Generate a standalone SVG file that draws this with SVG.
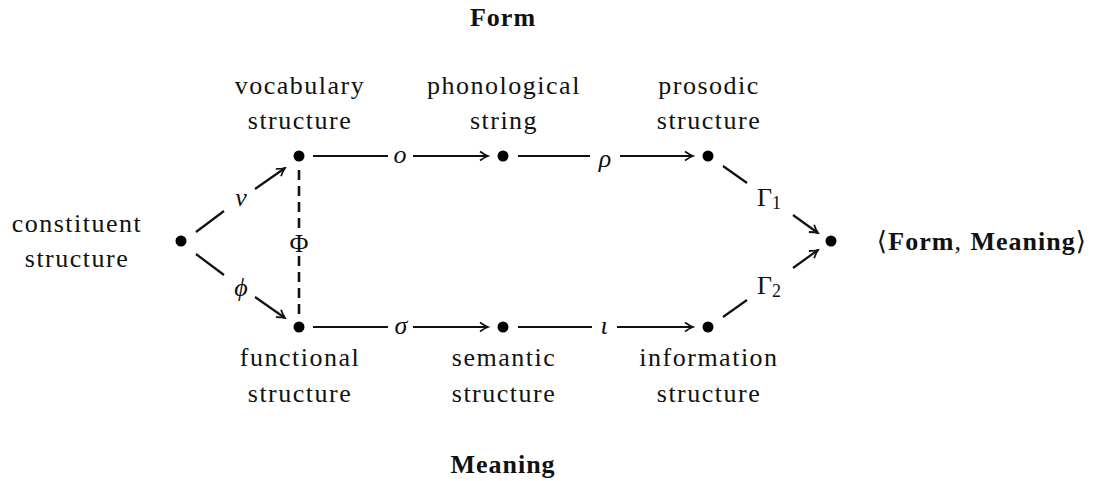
<svg xmlns="http://www.w3.org/2000/svg" width="1099" height="481" viewBox="0 0 1099 481">
<defs>
<style>
.t{font-family:"Liberation Serif","DejaVu Serif",serif;font-size:26px;letter-spacing:1.5px;fill:#111;text-anchor:middle;dominant-baseline:central}
.b{font-weight:bold;letter-spacing:1px}
.g{font-style:italic;letter-spacing:0}
.ln{stroke:#111;stroke-width:2.2;fill:none}
.ds{stroke-dasharray:10 6;stroke-width:2.6}
.dot{fill:#000}
</style>
<marker id="ar" viewBox="-10 -6 12 12" refX="0" refY="0" markerWidth="12" markerHeight="12" markerUnits="userSpaceOnUse" orient="auto">
<path d="M-8,-4.5 Q-3,-1 0,0 Q-3,1 -8,4.5" stroke="#111" stroke-width="1.8" fill="none"/>
</marker>
</defs>
<rect width="1099" height="481" fill="#fff"/>

<g id="labels">
<text class="t b" x="503" y="17">Form</text>
<text class="t b" x="503" y="464">Meaning</text>
</g>

<g id="n-constituent">
<circle class="dot" cx="181" cy="241" r="5.5"/>
<text class="t" x="77" y="223">constituent</text>
<text class="t" x="77" y="258">structure</text>
</g>
<g id="n-vocabulary">
<circle class="dot" cx="299" cy="156" r="5.5"/>
<text class="t" x="300" y="85">vocabulary</text>
<text class="t" x="300" y="120">structure</text>
</g>
<g id="n-functional">
<circle class="dot" cx="299" cy="327" r="5.5"/>
<text class="t" x="300" y="357">functional</text>
<text class="t" x="300" y="393">structure</text>
</g>
<g id="n-phonological">
<circle class="dot" cx="503" cy="156" r="5.5"/>
<text class="t" x="504" y="85">phonological</text>
<text class="t" x="504" y="120">string</text>
</g>
<g id="n-semantic">
<circle class="dot" cx="503" cy="327" r="5.5"/>
<text class="t" x="504" y="357">semantic</text>
<text class="t" x="504" y="393">structure</text>
</g>
<g id="n-prosodic">
<circle class="dot" cx="708" cy="156" r="5.5"/>
<text class="t" x="709" y="85">prosodic</text>
<text class="t" x="709" y="120">structure</text>
</g>
<g id="n-information">
<circle class="dot" cx="708" cy="327" r="5.5"/>
<text class="t" x="709" y="357">information</text>
<text class="t" x="709" y="393">structure</text>
</g>
<g id="n-pair">
<circle class="dot" cx="831" cy="241" r="5.5"/>
<text class="t" x="982" y="241">⟨<tspan class="b">Form</tspan>, <tspan class="b">Meaning</tspan>⟩</text>
</g>

<g id="connectors">
<path class="ln" d="M196,232 L224,211"/>
<path class="ln" d="M255,189 L285,168" marker-end="url(#ar)"/>
<text class="t g" x="241" y="197">ν</text>
<path class="ln" d="M196,254 L224,275"/>
<path class="ln" d="M255,297 L285,318" marker-end="url(#ar)"/>
<text class="t g" x="241" y="287">ϕ</text>

<path class="ln ds" d="M299,170 L299,230"/>
<path class="ln ds" d="M299,256 L299,316"/>
<text class="t" x="299" y="243" style="letter-spacing:0">Φ</text>

<path class="ln" d="M313,156 L388,156"/>
<path class="ln" d="M413,156 L488,156" marker-end="url(#ar)"/>
<text class="t g" x="400" y="154">ο</text>
<path class="ln" d="M518,156 L590,156"/>
<path class="ln" d="M620,156 L693,156" marker-end="url(#ar)"/>
<text class="t g" x="605" y="158">ρ</text>

<path class="ln" d="M313,327 L388,327"/>
<path class="ln" d="M413,327 L488,327" marker-end="url(#ar)"/>
<text class="t g" x="401" y="325">σ</text>
<path class="ln" d="M518,327 L592,327"/>
<path class="ln" d="M617,327 L693,327" marker-end="url(#ar)"/>
<text class="t g" x="604" y="325">ι</text>

<path class="ln" d="M723,166 L747,183"/>
<path class="ln" d="M793,215 L818,233" marker-end="url(#ar)"/>
<text class="t" x="769" y="197" style="letter-spacing:0">Γ<tspan font-size="18" dy="6">1</tspan></text>
<path class="ln" d="M723,317 L747,300"/>
<path class="ln" d="M793,268 L818,250" marker-end="url(#ar)"/>
<text class="t" x="769" y="285" style="letter-spacing:0">Γ<tspan font-size="18" dy="6">2</tspan></text>
</g>
</svg>
